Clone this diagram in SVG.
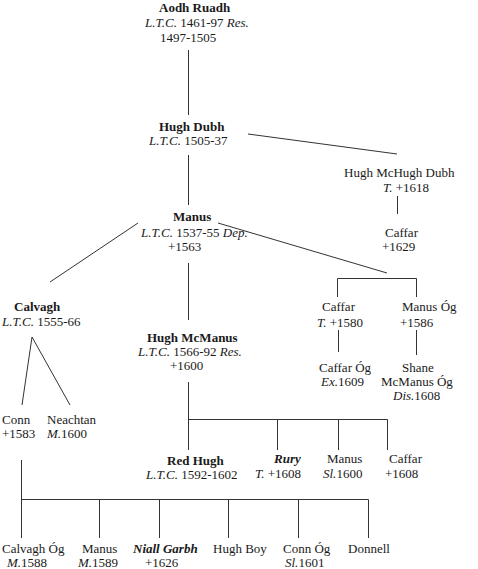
<svg xmlns="http://www.w3.org/2000/svg" width="478" height="569" viewBox="0 0 478 569">
<style>
text{font-family:'Liberation Serif','Times New Roman',Tinos,'DejaVu Serif',serif;font-size:13px;fill:#1a1a1a}
.b{font-weight:bold}
.i{font-style:italic}
.bi{font-weight:bold;font-style:italic}
#connectors line,#connectors polyline{stroke:#333;stroke-width:1;fill:none}
</style>
<rect width="478" height="569" fill="#fff"/>
<g id="connectors">
<line x1="188.5" y1="50" x2="188.5" y2="115"/>
<line x1="248" y1="134" x2="397" y2="154"/>
<line x1="188.5" y1="155" x2="188.5" y2="205"/>
<line x1="397.5" y1="196" x2="397.5" y2="214"/>
<line x1="138" y1="223" x2="50" y2="282"/>
<line x1="218" y1="223" x2="387" y2="273"/>
<polyline points="337.5,297 337.5,278.5 416.5,278.5 416.5,297"/>
<line x1="188.5" y1="263" x2="188.5" y2="320"/>
<line x1="338.5" y1="330" x2="338.5" y2="352"/>
<line x1="416.5" y1="330" x2="416.5" y2="355"/>
<polyline points="22,405 32,337 70,405"/>
<line x1="188.5" y1="382" x2="188.5" y2="450"/>
<polyline points="188.5,419.5 387.5,419.5 387.5,450"/>
<line x1="277.5" y1="419.5" x2="277.5" y2="450"/>
<line x1="338.5" y1="419.5" x2="338.5" y2="450"/>
<line x1="21.5" y1="460" x2="21.5" y2="538"/>
<polyline points="21.5,499.5 368.5,499.5 368.5,538"/>
<line x1="99.5" y1="499.5" x2="99.5" y2="538"/>
<line x1="159.5" y1="499.5" x2="159.5" y2="538"/>
<line x1="228.5" y1="499.5" x2="228.5" y2="538"/>
<line x1="298.5" y1="499.5" x2="298.5" y2="538"/>
</g>
<g id="aodh-ruadh">
<text x="159" y="12" class="b">Aodh Ruadh</text>
<text x="145" y="27"><tspan class="i">L.T.C.</tspan> 1461-97 <tspan class="i">Res.</tspan></text>
<text x="160" y="42">1497-1505</text>
</g>
<g id="hugh-dubh">
<text x="159" y="131" class="b">Hugh Dubh</text>
<text x="149" y="145"><tspan class="i">L.T.C.</tspan> 1505-37</text>
</g>
<g id="hugh-mchugh-dubh">
<text x="344" y="177">Hugh McHugh Dubh</text>
<text x="383" y="192"><tspan class="i">T.</tspan> +1618</text>
</g>
<g id="caffar-1629">
<text x="385" y="237">Caffar</text>
<text x="382" y="251">+1629</text>
</g>
<g id="manus">
<text x="173" y="221" class="b">Manus</text>
<text x="141" y="237"><tspan class="i">L.T.C.</tspan> 1537-55 <tspan class="i">Dep.</tspan></text>
<text x="168" y="251">+1563</text>
</g>
<g id="calvagh">
<text x="14" y="311" class="b">Calvagh</text>
<text x="2" y="326"><tspan class="i">L.T.C.</tspan> 1555-66</text>
</g>
<g id="caffar-1580">
<text x="322" y="311">Caffar</text>
<text x="317" y="327"><tspan class="i">T.</tspan> +1580</text>
</g>
<g id="manus-og">
<text x="402" y="311">Manus Óg</text>
<text x="400" y="327">+1586</text>
</g>
<g id="caffar-og">
<text x="319" y="372">Caffar Óg</text>
<text x="321" y="386"><tspan class="i">Ex.</tspan>1609</text>
</g>
<g id="shane-mcmanus-og">
<text x="402" y="372">Shane</text>
<text x="381" y="386">McManus Óg</text>
<text x="393" y="400"><tspan class="i">Dis.</tspan>1608</text>
</g>
<g id="hugh-mcmanus">
<text x="147" y="342" class="b">Hugh McManus</text>
<text x="138" y="356"><tspan class="i">L.T.C.</tspan> 1566-92 <tspan class="i">Res.</tspan></text>
<text x="170" y="370">+1600</text>
</g>
<g id="conn">
<text x="2" y="424">Conn</text>
<text x="2" y="438">+1583</text>
</g>
<g id="neachtan">
<text x="47" y="424">Neachtan</text>
<text x="47" y="438"><tspan class="i">M.</tspan>1600</text>
</g>
<g id="red-hugh">
<text x="167" y="465" class="b">Red Hugh</text>
<text x="146" y="479"><tspan class="i">L.T.C.</tspan> 1592-1602</text>
</g>
<g id="rury">
<text x="274" y="463" class="bi">Rury</text>
<text x="255" y="478"><tspan class="i">T.</tspan> +1608</text>
</g>
<g id="manus-1600">
<text x="327" y="463">Manus</text>
<text x="323" y="478"><tspan class="i">Sl.</tspan>1600</text>
</g>
<g id="caffar-1608">
<text x="389" y="463">Caffar</text>
<text x="385" y="478">+1608</text>
</g>
<g id="calvagh-og">
<text x="2" y="553">Calvagh Óg</text>
<text x="7" y="567"><tspan class="i">M.</tspan>1588</text>
</g>
<g id="manus-1589">
<text x="82" y="553">Manus</text>
<text x="78" y="567"><tspan class="i">M.</tspan>1589</text>
</g>
<g id="niall-garbh">
<text x="133" y="553" class="bi">Niall Garbh</text>
<text x="145" y="567">+1626</text>
</g>
<g id="hugh-boy">
<text x="213" y="553">Hugh Boy</text>
</g>
<g id="conn-og">
<text x="283" y="553">Conn Óg</text>
<text x="285" y="567"><tspan class="i">Sl.</tspan>1601</text>
</g>
<g id="donnell">
<text x="348" y="553">Donnell</text>
</g>
</svg>
